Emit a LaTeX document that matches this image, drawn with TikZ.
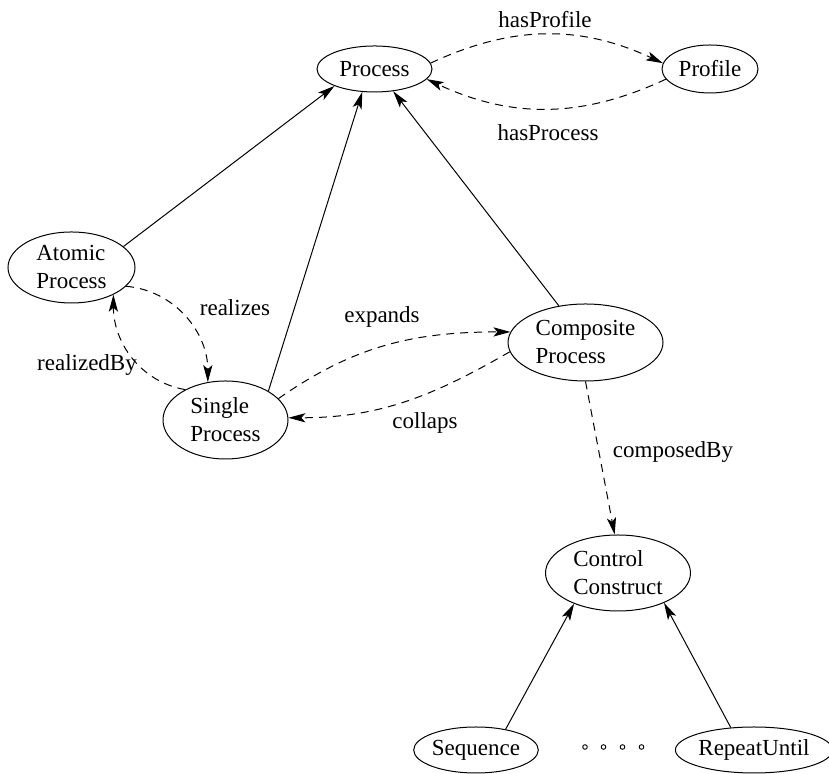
\documentclass[tikz,border=0pt]{standalone}
\usepackage{fontspec}
\setmainfont{Liberation Serif}
\usetikzlibrary{shapes.geometric,arrows.meta}
\tikzset{
  ent/.style={draw,ellipse,inner sep=0pt,align=left,line width=0.5pt,
    font=\fontsize{11.5}{14}\selectfont},
  lbl/.style={font=\fontsize{11.5}{14}\selectfont,inner sep=0pt},
  link/.style={line width=0.5pt,-{Stealth[length=8.5pt,width=4.6pt,inset=2pt]}},
  dlink/.style={link,dash pattern=on 4pt off 3pt},
  dotc/.style={draw,circle,inner sep=0pt,minimum size=2.3pt,line width=0.45pt}
}
\begin{document}
\begin{tikzpicture}[x=0.5pt,y=0.5pt]
\useasboundingbox (0,0) rectangle (829,774);
\node[ent,minimum width=57.5pt,minimum height=23pt] (proc) at (374.5,705) {Process};
\node[ent,minimum width=48pt,minimum height=24pt] (prof) at (710,705) {Profile};
\node[ent,minimum width=63.5pt,minimum height=35.5pt] (atomic) at (71.5,506.5) {Atomic\\Process};
\node[ent,minimum width=62.5pt,minimum height=39pt] (single) at (225.5,354) {Single\\Process};
\node[ent,minimum width=77.5pt,minimum height=38.5pt] (comp) at (585.5,431.5) {Composite\\Process};
\node[ent,minimum width=72.5pt,minimum height=38pt] (ctrl) at (618,201) {Control\\Construct};
\node[ent,minimum width=44pt,minimum height=23pt] (seq) at (476,24) {Sequence};
\node[ent,minimum width=74pt,minimum height=23pt] (rep) at (754,24) {RepeatUntil};

\node[dotc] (d1) at (585,27) {};
\node[dotc] (d2) at (603.5,27) {};
\node[dotc] (d3) at (622.5,27) {};
\node[dotc] (d4) at (641.5,27) {};

\node[lbl] (lhp) at (545,754) {hasProfile};
\node[lbl] (lhpr) at (548,641) {hasProcess};
\node[lbl] (lre) at (235,466) {realizes};
\node[lbl] (lrb) at (87,409) {realizedBy};
\node[lbl] (lex) at (382,457) {expands};
\node[lbl] (lco) at (425,351) {collaps};
\node[lbl] (lcb) at (673,322) {composedBy};

% solid generalisation links
\draw[link] (atomic.22) -- (proc.203);
\draw[link] (single.34) -- (proc.242);
\draw[link] (comp.126) -- (proc.310);
\draw[link] (seq.35) -- (ctrl.215);
\draw[link] (rep.136) -- (ctrl.327);

% dashed relations
\draw[dlink] (proc.6) to[out=25,in=155] (prof.173);
\draw[dlink] (prof.193) to[out=205,in=335] (proc.349);
\draw[dlink] (atomic.-19) to[out=-5,in=90] (single.115);
\draw[dlink] (single.143) to[out=170,in=-90] (atomic.-33);
\draw[dlink] (single.22) to[out=35,in=180] (comp.172);
\draw[dlink] (comp.187) to[out=210,in=0] (single.2);
\draw[dlink] (comp.-90) -- (ctrl.95);
\end{tikzpicture}
\end{document}
